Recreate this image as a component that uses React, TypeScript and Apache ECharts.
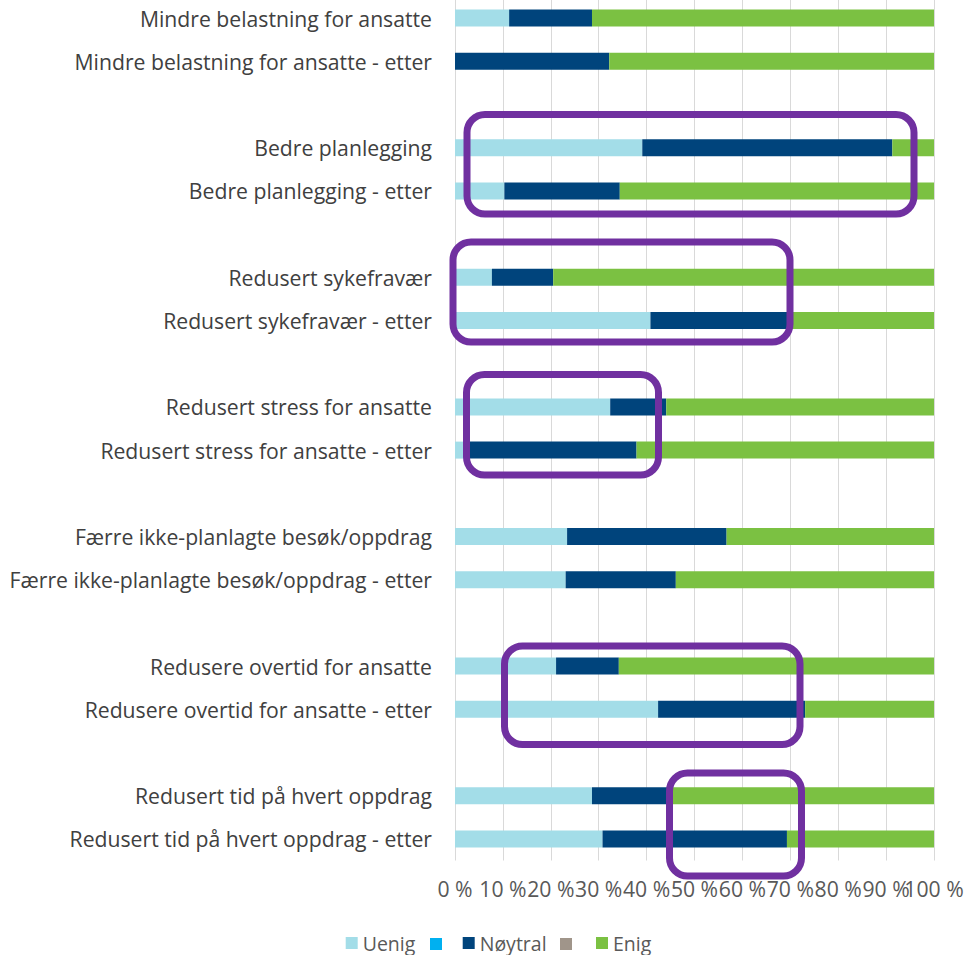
import React, { useEffect, useRef } from "react";
import * as echarts from "echarts";

const categories = [
  "Mindre belastning for ansatte",
  "Mindre belastning for ansatte - etter",
  "",
  "Bedre planlegging",
  "Bedre planlegging - etter",
  "",
  "Redusert sykefravær",
  "Redusert sykefravær - etter",
  "",
  "Redusert stress for ansatte",
  "Redusert stress for ansatte - etter",
  "",
  "Færre ikke-planlagte besøk/oppdrag",
  "Færre ikke-planlagte besøk/oppdrag - etter",
  "",
  "Redusere overtid for ansatte",
  "Redusere overtid for ansatte - etter",
  "",
  "Redusert tid på hvert oppdrag",
  "Redusert tid på hvert oppdrag - etter",
];

const uenig = [11.3, 0, null, 39.1, 10.3, null, 7.7, 40.8, null, 32.4, 3.0, null, 23.4, 23.1, null, 21.1, 42.4, null, 28.6, 30.8];
const blank1 = [0, 0, null, 0, 0, null, 0, 0, null, 0, 0, null, 0, 0, null, 0, 0, null, 0, 0];
const noytral = [17.3, 32.2, null, 52.2, 24.1, null, 12.8, 29.2, null, 11.7, 34.9, null, 33.3, 23.0, null, 13.1, 30.7, null, 16.1, 38.5];
const blank2 = [0, 0, null, 0, 0, null, 0, 0, null, 0, 0, null, 0, 0, null, 0, 0, null, 0, 0];
const enig = [71.4, 67.8, null, 8.7, 65.6, null, 79.5, 30.0, null, 55.9, 62.1, null, 43.3, 53.9, null, 65.8, 26.9, null, 55.3, 30.7];

const seriesNames = ["Uenig", " ", "Nøytral", "  ", "Enig"];
const seriesColors = ["#A3DDE8", "#00B0F0", "#00447C", "#A0958A", "#7BC142"];
const seriesData = [uenig, blank1, noytral, blank2, enig];

const tickLabels = ["0 %", "10 %", "20 %", "30 %", "40 %", "50 %", "60 %", "70 %", "80 %", "90 %", "100 %"];

// layout of legend items (left edge of each swatch, page px)
const legendLefts = [345.7, 430, 462.7, 560, 596];

// highlight frames [x, y, width, height] in page pixels (annotation overlay)
const OFFSET = 4;
const frames = [
  [467, 114.5, 447, 99.5],
  [453, 242, 337, 100],
  [466.5, 374.5, 192, 100.5],
  [504.5, 646, 295.5, 98.5],
  [669.5, 773, 132, 103],
];

const FONT = "'Open Sans', sans-serif";
const FS = 21.2;
const LFS = 19.5;

const xLabelBase = {
  fontFamily: FONT,
  fontSize: FS,
  color: "#595959",
  margin: 17,
  showMinLabel: true,
  showMaxLabel: true,
  hideOverlap: false,
};

export default function App() {
  const ref = useRef<HTMLDivElement>(null);
  useEffect(() => {
    const chart = echarts.init(ref.current!, null, { renderer: "svg" });
    chart.setOption({
      animation: false,
      grid: { left: 455, right: 43, top: 0.5, bottom: 94.5, containLabel: false },
      legend: seriesNames.map((name, i) => {
        const blank = name.trim() === "";
        return {
          top: blank ? 942 : 937,
          left: legendLefts[i],
          padding: 0,
          itemWidth: 12,
          itemHeight: 12,
          icon: "rect",
          data: [name],
          textStyle: { fontFamily: FONT, fontSize: LFS, color: "#595959" },
          formatter: (n: string) => n.trim(),
          selectedMode: false,
        };
      }),
      xAxis: [0, 1].map((k) => ({
        type: "value",
        position: "bottom",
        offset: 0,
        min: 0,
        max: 100,
        interval: 10,
        axisLine: { show: false },
        axisTick: { show: false },
        splitLine: { show: k === 0, lineStyle: { color: "#D9D9D9", width: 1 } },
        axisLabel: {
          ...xLabelBase,
          formatter: (v: number) => {
            const idx = Math.round(v / 10);
            return idx % 2 === k ? tickLabels[idx] : "";
          },
        },
      })),
      yAxis: {
        type: "category",
        inverse: true,
        data: categories,
        axisLine: { show: false },
        axisTick: { show: false },
        axisLabel: { fontFamily: FONT, fontSize: FS, color: "#404040", margin: 23, interval: 0 },
      },
      series: seriesNames.map((name, i) => ({
        name,
        type: "bar",
        stack: "total",
        xAxisIndex: 0,
        barWidth: 17,
        data: seriesData[i],
        itemStyle: { color: seriesColors[i] },
      })),
      graphic: frames.map(([x, y, w, h]) => ({
        type: "rect",
        z: 100,
        shape: { x, y: y + OFFSET, width: w, height: h, r: 18 },
        style: { fill: "none", stroke: "#7030A0", lineWidth: 7 },
      })),
    });
    return () => chart.dispose();
  }, []);
  return (
    <div
      ref={ref}
      style={{ position: "absolute", left: 0, top: -OFFSET, width: 977, height: 955 + OFFSET }}
    />
  );
}
